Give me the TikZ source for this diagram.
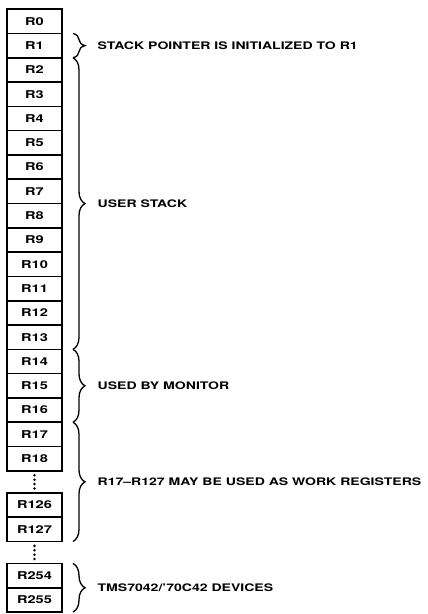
\documentclass[tikz,border=0pt]{standalone}
\usepackage{fontspec}
\setmainfont{TeX Gyre Heros}[FakeStretch=1.35]
\usetikzlibrary{positioning, calc, decorations.pathreplacing}
\tikzstyle{reg} = [rectangle, draw=black, line width=1.6pt, minimum width=55pt, minimum height=24.3pt, outer sep=0pt, inner sep=0pt, font=\fontsize{10.8}{13}\selectfont\bfseries]
\tikzstyle{brace} = [decorate, decoration={brace, amplitude=12pt}, line width=1.3pt]
\tikzstyle{note} = [anchor=west, inner sep=0pt, xshift=24pt, font=\fontsize{10.4}{13}\selectfont\bfseries]
\begin{document}
\begin{tikzpicture}[x=1pt, y=1pt]
        \useasboundingbox (0,0) rectangle (428,-614);
        % Register file
        \node [reg] (r0) at (34.5,-21.3) {R0};
        \node [reg, below=0pt of r0] (r1) {R1};
        \node [reg, below=0pt of r1] (r2) {R2};
        \node [reg, below=0pt of r2] (r3) {R3};
        \node [reg, below=0pt of r3] (r4) {R4};
        \node [reg, below=0pt of r4] (r5) {R5};
        \node [reg, below=0pt of r5] (r6) {R6};
        \node [reg, below=0pt of r6] (r7) {R7};
        \node [reg, below=0pt of r7] (r8) {R8};
        \node [reg, below=0pt of r8] (r9) {R9};
        \node [reg, below=0pt of r9] (r10) {R10};
        \node [reg, below=0pt of r10] (r11) {R11};
        \node [reg, below=0pt of r11] (r12) {R12};
        \node [reg, below=0pt of r12] (r13) {R13};
        \node [reg, below=0pt of r13] (r14) {R14};
        \node [reg, below=0pt of r14] (r15) {R15};
        \node [reg, below=0pt of r15] (r16) {R16};
        \node [reg, below=0pt of r16] (r17) {R17};
        \node [reg, below=0pt of r17] (r18) {R18};
        \node [reg, below=22pt of r18] (r126) {R126};
        \node [reg, below=0pt of r126] (r127) {R127};
        \node [reg, below=22pt of r127] (r254) {R254};
        \node [reg, below=0pt of r254] (r255) {R255};

        % Gaps in the file
        \foreach \t in {0.2,0.4,0.6,0.8} {
            \fill ($(r18.south)!\t!(r126.north)$) circle (1.4pt);
            \fill ($(r127.south)!\t!(r254.north)$) circle (1.4pt);
        }

        % Braces and notes
        \draw [brace] ([xshift=11pt]r1.north east) -- ([xshift=11pt]r1.south east) node [midway, note] {STACK POINTER IS INITIALIZED TO R1};
        \draw [brace] ([xshift=11pt]r2.north east) -- ([xshift=11pt]r13.south east) node [midway, note] {USER STACK};
        \draw [brace] ([xshift=11pt]r14.north east) -- ([xshift=11pt]r16.south east) node [midway, note] {USED BY MONITOR};
        \draw [brace] ([xshift=11pt]r17.north east) -- ([xshift=11pt]r127.south east) node [midway, note] {R17--R127 MAY BE USED AS WORK REGISTERS};
        \draw [brace] ([xshift=11pt]r254.north east) -- ([xshift=11pt]r255.south east) node [midway, note] {TMS7042/'70C42 DEVICES};
    \end{tikzpicture}
\end{document}
